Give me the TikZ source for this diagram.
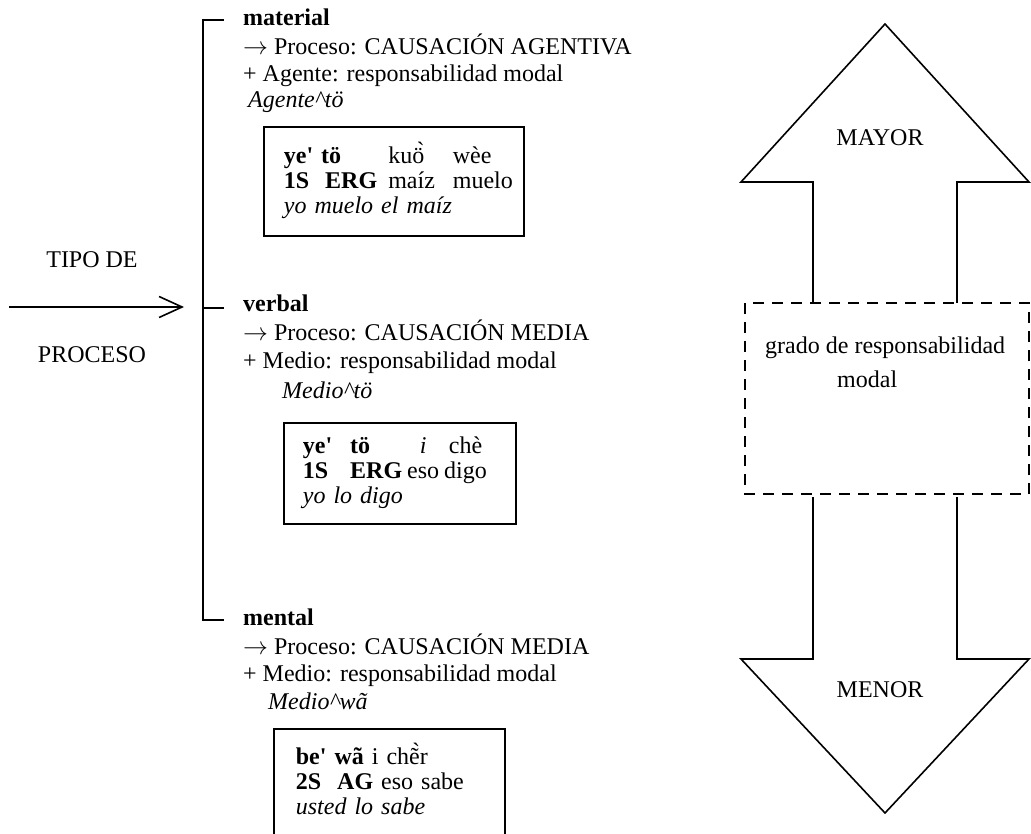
\documentclass[tikz,border=0pt]{standalone}
\usepackage{fontspec}
\setmainfont{Liberation Serif}
\usetikzlibrary{arrows.meta}

\begin{document}
\begin{tikzpicture}[x=1pt,y=-1pt,
  texto/.style={anchor=base west,inner sep=0pt,font=\fontsize{24}{27}\selectfont},
  centro/.style={inner sep=0pt,font=\fontsize{24}{27}\selectfont},
  ejbox/.style={draw,line width=1.8pt,anchor=north west,align=left,
    font=\fontsize{24}{25}\selectfont},
  rama/.style={line width=2.2pt},
  contorno/.style={line width=1.6pt,line join=miter}]
  \useasboundingbox (0,0) rectangle (1031,834);
  \clip (0,0) rectangle (1031,834);

  % entrada
  \node[centro] (tipo) at (92,260) {TIPO DE};
  \node[centro] (proc) at (92,355) {PROCESO};
  \coordinate (ini) at (9,307);
  \coordinate (fin) at (184,307);
  \draw[line width=1.6pt,-{Straight Barb[length=23pt,width=21pt,line width=1.6pt]}] (ini)--(fin);

  % corchete
  \coordinate (c1) at (203,20);
  \coordinate (c2) at (203,308);
  \coordinate (c3) at (203,620);
  \draw[rama] (224,20)--(c1)--(c3)--(224,620);
  \draw[rama] (c2)--(224,308);

  % material
  \node[texto] (mat1) at (243,26) {\textbf{material}};
  \node[texto] (mat2) at (243,55) {$\rightarrow$ Proceso: CAUSACIÓN AGENTIVA};
  \node[texto] (mat3) at (243,82) {+ Agente: responsabilidad modal};
  \node[texto] (mat4) at (248,108) {\textit{Agente\textasciicircum tö}};
  \node[ejbox,inner xsep=20pt,inner ysep=15pt,text width=220pt] (ejmat) at (263,126)
    {\begin{tabular}{@{}l@{\hspace{11pt}}l@{\hspace{18pt}}l@{}}
     \textbf{ye\textquotesingle\ tö} & kuö̀ & wèe\\
     \textbf{1S\ \ ERG} & maíz & muelo\\
     \multicolumn{3}{@{}l@{}}{\textit{yo muelo el maíz}}
     \end{tabular}};

  % verbal
  \node[texto] (ver1) at (243,312) {\textbf{verbal}};
  \node[texto] (ver2) at (243,341) {$\rightarrow$ Proceso: CAUSACIÓN MEDIA};
  \node[texto] (ver3) at (243,368) {+ Medio: responsabilidad modal};
  \node[texto] (ver4) at (282,399) {\textit{Medio\textasciicircum tö}};
  \node[ejbox,inner xsep=19pt,inner ysep=13pt,text width=194pt] (ejver) at (283,422)
    {\begin{tabular}{@{}l@{\hspace{18pt}}l@{\hspace{5pt}}c@{\hspace{5pt}}c@{}}
     \textbf{ye\textquotesingle} & \textbf{tö} & \textit{i} & chè\\
     \textbf{1S} & \textbf{ERG} & eso & digo\\
     \multicolumn{4}{@{}l@{}}{\textit{yo lo digo}}
     \end{tabular}};

  % mental
  \node[texto] (men1) at (243,625) {\textbf{mental}};
  \node[texto] (men2) at (243,654) {$\rightarrow$ Proceso: CAUSACIÓN MEDIA};
  \node[texto] (men3) at (243,681) {+ Medio: responsabilidad modal};
  \node[texto] (men4) at (268,709) {\textit{Medio\textasciicircum wã}};
  \node[ejbox,inner xsep=22pt,inner ysep=14pt,text width=187pt] (ejmen) at (273,728)
    {\begin{tabular}{@{}l@{}}
     \textbf{be\textquotesingle\ wã} i chẽ̀r\\
     \textbf{2S\ \ AG} eso sabe\\
     \textit{usted lo sabe}\rule[-80pt]{0pt}{0pt}
     \end{tabular}};

  % flecha doble
  \draw[contorno] (813,303)--(813,182)--(741,182)--(885,24)--(1029,182)--(957,182)--(957,303);
  \draw[contorno] (813,497)--(813,659)--(741,659)--(885,813)--(1029,659)--(957,659)--(957,497);
  \draw[line width=1.6pt,dash pattern=on 11pt off 8pt] (745,303) rectangle (1029,494);
  \node[centro] (mayor) at (880,138) {MAYOR};
  \node[centro] (menor) at (880,690) {MENOR};
  \node[texto] (grado) at (765,354) {grado de responsabilidad};
  \node[texto] (modal) at (837,388) {modal};
\end{tikzpicture}
\end{document}
